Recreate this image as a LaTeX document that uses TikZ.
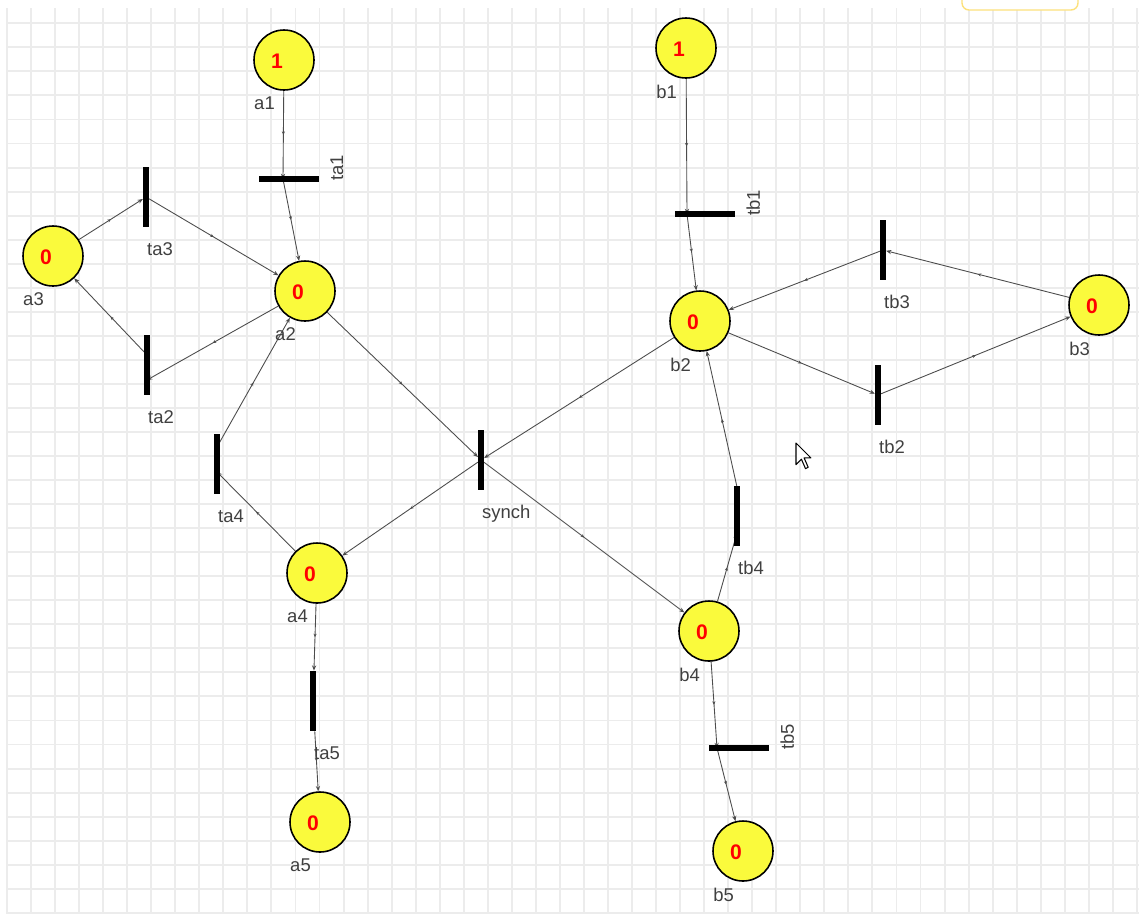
\documentclass[tikz,border=0pt]{standalone}
\usepackage{fontspec}
\setmainfont{Liberation Sans}
\usetikzlibrary{arrows.meta, decorations.markings, backgrounds, calc}

\definecolor{placefill}{RGB}{250,250,60}
\definecolor{gridgray}{RGB}{236,236,236}

\begin{document}
\begin{tikzpicture}[
    x=0.02cm, y=-0.02cm,
    % Estilos de la red
    place/.style 2 args={circle, draw=black, line width=0.9pt, fill=placefill, minimum size=1.2cm, inner sep=0pt,
        label={[token]center:#1}, label={[plabel]below:#2}},
    token/.style={text=red, font=\fontsize{12}{14}\selectfont\bfseries, xshift=-0.14cm, yshift=-0.03cm},
    plabel/.style={text=black!75, font=\fontsize{10.5}{12}\selectfont, xshift=-0.39cm},
    tlabel/.style={text=black!75, font=\fontsize{10.5}{12}\selectfont},
    vtrans/.style={rectangle, fill=black, minimum width=0.11cm, minimum height=1.2cm, inner sep=0pt,
        label={[tlabel, anchor=north west, label distance=0.18cm, xshift=-0.1cm]south:#1}},
    htrans/.style={rectangle, fill=black, minimum width=1.2cm, minimum height=0.11cm, inner sep=0pt,
        label={[tlabel, rotate=90, anchor=north west, label distance=0.18cm, yshift=-0.1cm, xshift=-0.34cm]east:#1}},
    arc/.style={draw=black!70, line width=0.5pt, -{Stealth[length=3pt, width=2.4pt]},
        decoration={markings, mark=at position 0.5 with {\arrow{Stealth[length=2pt, width=1.8pt]}}},
        postaction={decorate}},
    gridline/.style={draw=gridgray, line width=1.1pt}
]

\useasboundingbox (0,0) rectangle (1139,914);

% Lugares, lado A
\node[place={1}{a1}] (a1) at (284,60) {};
\node[place={0}{a2}] (a2) at (305,291) {};
\node[place={0}{a3}] (a3) at (53,256) {};
\node[place={0}{a4}] (a4) at (317,573) {};
\node[place={0}{a5}] (a5) at (320,822) {};

% Lugares, lado B
\node[place={1}{b1}] (b1) at (686,48) {};
\node[place={0}{b2}] (b2) at (700,321) {};
\node[place={0}{b3}] (b3) at (1099,305) {};
\node[place={0}{b4}] (b4) at (709,631) {};
\node[place={0}{b5}] (b5) at (743,851) {};

% Transiciones
\node[htrans=ta1] (ta1) at (289,179) {};
\node[vtrans=ta3] (ta3) at (146,197) {};
\node[vtrans=ta2] (ta2) at (147,365) {};
\node[vtrans=ta4] (ta4) at (217,464) {};
\node[vtrans=ta5] (ta5) at (313,701) {};
\node[vtrans=synch] (synch) at (481,460) {};
\node[htrans=tb1] (tb1) at (705,214) {};
\node[vtrans=tb3] (tb3) at (883,250) {};
\node[vtrans=tb2] (tb2) at (878,395) {};
\node[vtrans=tb4] (tb4) at (737,516) {};
\node[htrans=tb5] (tb5) at (739,748) {};

% Puntos donde los arcos tocan las barras
\coordinate (ta1p) at ($(ta1)+(-6,0)$);
\coordinate (ta2in) at ($(ta2)+(0,15)$);
\coordinate (ta2out) at ($(ta2)+(0,-10)$);
\coordinate (ta4in) at ($(ta4)+(0,8)$);
\coordinate (ta4out) at ($(ta4)+(0,-17)$);
\coordinate (tb1p) at ($(tb1)+(-18,0)$);
\coordinate (tb4in) at ($(tb4)+(0,17)$);
\coordinate (tb4out) at ($(tb4)+(0,-29)$);
\coordinate (tb5p) at ($(tb5)+(-22,0)$);

\begin{scope}[on background layer]
    % Hoja cuadriculada
    \fill[white] (0,0) rectangle (1139,914);
    \foreach \i in {0,...,47}
        \draw[gridline] ({7+24.04*\i},8) -- ({7+24.04*\i},914);
    \foreach \j in {0,...,37}
        \draw[gridline] (6,{23.3+24.04*\j}) -- (1139,{23.3+24.04*\j});
    \begin{scope}
        \clip (0,0) rectangle (1139,914);
        \draw[draw=yellow!60!orange!50, fill=white, line width=0.8pt, rounded corners=4pt] (962,-20) rectangle (1078,10);
    \end{scope}

    % Arcos del lado A
    \draw[arc] (a1) -- (ta1p);
    \draw[arc] (ta1p) -- (a2);
    \draw[arc] (a3) -- (ta3);
    \draw[arc] (ta3) -- (a2);
    \draw[arc] (a2) -- (ta2in);
    \draw[arc] (ta2out) -- (a3);
    \draw[arc] (a4) -- (ta4in);
    \draw[arc] (ta4out) -- (a2);
    \draw[arc] (a4) -- (ta5);
    \draw[arc] (ta5) -- (a5);

    % Sincronizacion
    \draw[arc] (a2) -- (synch);
    \draw[arc] (b2) -- (synch);
    \draw[arc] (synch) -- (a4);
    \draw[arc] (synch) -- (b4);

    % Arcos del lado B
    \draw[arc] (b1) -- (tb1p);
    \draw[arc] (tb1p) -- (b2);
    \draw[arc] (b2) -- (tb2);
    \draw[arc] (tb2) -- (b3);
    \draw[arc] (b3) -- (tb3);
    \draw[arc] (tb3) -- (b2);
    \draw[arc] (b4) -- (tb4in);
    \draw[arc] (tb4out) -- (b2);
    \draw[arc] (b4) -- (tb5p);
    \draw[arc] (tb5p) -- (b5);
\end{scope}

% Puntero del raton
\draw[fill=white, line width=0.6pt, line join=round] (796,443) -- ++(0,21.6) -- ++(5.4,-5.4) -- ++(4.1,9.4)
    -- ++(2.7,-1.3) -- ++(-4.1,-9.4) -- ++(6.8,0) -- cycle;

\end{tikzpicture}
\end{document}
